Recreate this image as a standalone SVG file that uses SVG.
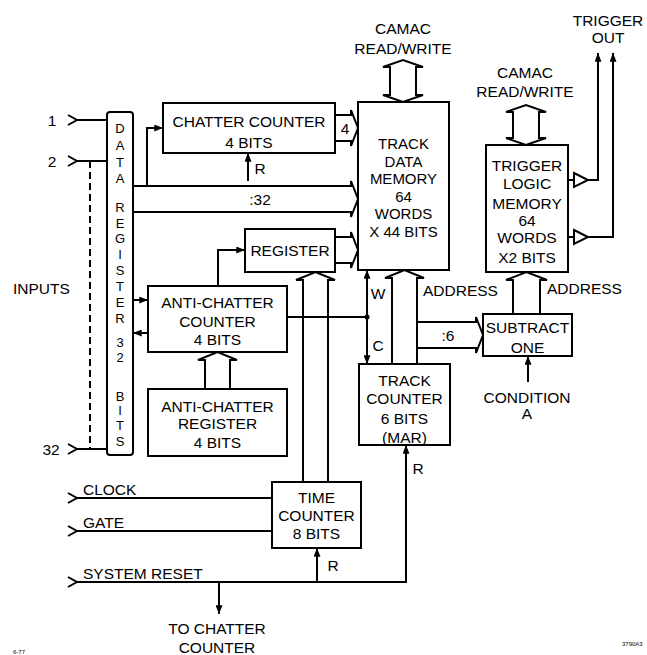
<svg xmlns="http://www.w3.org/2000/svg" width="647" height="655" viewBox="0 0 647 655">
<style>
text{font-family:"Liberation Sans",Arial,sans-serif;font-size:15.5px;fill:#000;text-anchor:middle}
.l{text-anchor:start}
.v{font-size:13px}
.m{font-size:15px}
.box{fill:#fff;stroke:#000;stroke-width:2}
.w{fill:none;stroke:#000;stroke-width:2}
.bus{fill:none;stroke:#000;stroke-width:2;stroke-linejoin:miter}
.dbl{fill:#fff;stroke:#000;stroke-width:2}
.tiny{font-size:6px}
</style>
<defs>
<marker id="ah" viewBox="0 0 10 8" refX="10" refY="4" markerWidth="9" markerHeight="7" markerUnits="userSpaceOnUse" orient="auto"><path d="M0,0 L10,4 L0,8 z" fill="#000"/></marker>
</defs>
<g id="connectors">
<path class="w" d="M68,115 L77,120 L68,125 M77,120 H107"/>
<path class="w" d="M68,156 L77,161 L68,166 M77,161 H107"/>
<path class="w" d="M68,444 L77,449 L68,454 M77,449 H107"/>
<line x1="90" y1="161" x2="90" y2="449" stroke="#000" stroke-width="2" stroke-dasharray="7 4"/>
<path class="bus" d="M133,186 H351 V181 L358,199 L351,217 V212 H133"/>
<path class="w" d="M147,186 V128 H163" marker-end="url(#ah)"/>
<path class="bus" d="M335,115 H351 V110 L358,128 L351,146 V141 H335"/>
<line class="w" x1="248" y1="181" x2="248" y2="153" marker-end="url(#ah)"/>
<path class="bus" d="M335,237 H351 V232 L358,250 L351,268 V263 H335"/>
<path class="w" d="M218,286 V250 H245" marker-end="url(#ah)"/>
<line class="w" x1="133" y1="300" x2="148" y2="300" marker-end="url(#ah)"/>
<line class="w" x1="148" y1="333" x2="133" y2="333" marker-end="url(#ah)"/>
<path class="bus" d="M205,389 V360 H198 L217.5,352 L237,360 H230 V389"/>
<path class="bus" d="M303,482 V280 H296 L315.5,272 L335,280 H328 V482"/>
<line class="w" x1="287" y1="317" x2="367" y2="317"/>
<circle cx="367" cy="317" r="2.5" fill="#000"/>
<line class="w" x1="367" y1="317" x2="367" y2="270" marker-end="url(#ah)"/>
<line class="w" x1="367" y1="317" x2="367" y2="364" marker-end="url(#ah)"/>
<path class="bus" d="M392,364 V278 H385 L404.5,270 L424,278 H417 V364"/>
<path class="bus" d="M417,322 H476 V317 L483,335 L476,353 V348 H417"/>
<path class="bus" d="M513,314 V280 H506 L526.5,272 L547,280 H540 V314"/>
<line class="w" x1="528" y1="382" x2="528" y2="356" marker-end="url(#ah)"/>
<path class="dbl" d="M390,67 H383 L403,60 L423,67 H416 V95 H423 L403,102 L383,95 H390 Z"/>
<path class="dbl" d="M513,112 H506 L526,105 L546,112 H539 V138 H546 L526,145 L506,138 H513 Z"/>
<line class="w" x1="568" y1="180" x2="574" y2="180"/>
<path class="dbl" d="M574,173 L588,180 L574,187 Z"/>
<path class="w" d="M588,180 H598 V53" marker-end="url(#ah)"/>
<line class="w" x1="568" y1="237" x2="574" y2="237"/>
<path class="dbl" d="M574,230 L588,237 L574,244 Z"/>
<path class="w" d="M588,237 H613 V53" marker-end="url(#ah)"/>
<path class="w" d="M68,493 L77,498 L68,503 M77,498 H272"/>
<path class="w" d="M68,526 L77,531 L68,536 M77,531 H272"/>
<path class="w" d="M68,577 L77,582 L68,587 M77,582 H406 V445" marker-end="url(#ah)"/>
<line class="w" x1="317" y1="582" x2="317" y2="548" marker-end="url(#ah)"/>
<line class="w" x1="219" y1="582" x2="219" y2="614" marker-end="url(#ah)"/>
</g>
<g id="labels">
<text x="52" y="126">1</text>
<text x="52" y="167">2</text>
<text x="51" y="455">32</text>
<text class="l" x="13" y="294">INPUTS</text>
<text x="260" y="205">:32</text>
<text x="345" y="134">4</text>
<text x="260" y="174">R</text>
<text x="378" y="299">W</text>
<text x="378" y="351">C</text>
<text class="l" x="423" y="296">ADDRESS</text>
<text class="l" x="547" y="294">ADDRESS</text>
<text x="448" y="341">:6</text>
<text x="527" y="403">CONDITION</text>
<text x="527" y="419">A</text>
<text x="403" y="34">CAMAC</text>
<text x="403" y="54">READ/WRITE</text>
<text x="525" y="78">CAMAC</text>
<text x="525" y="97">READ/WRITE</text>
<text x="608" y="26">TRIGGER</text>
<text x="608" y="43">OUT</text>
<text class="l" x="83" y="495">CLOCK</text>
<text class="l" x="83" y="528">GATE</text>
<text class="l" x="83" y="579">SYSTEM RESET</text>
<text x="418" y="474">R</text>
<text x="333" y="571">R</text>
<text x="217" y="634">TO CHATTER</text>
<text x="217" y="653">COUNTER</text>
<text class="l tiny" x="13" y="654">6-77</text>
<text class="l tiny" x="622" y="646">3790A3</text>
</g>
<g id="data-register">
<rect class="box" x="107" y="112" width="26" height="343" rx="3"/>
<text class="v" x="120" y="133">D</text><text class="v" x="120" y="150">A</text><text class="v" x="120" y="167">T</text><text class="v" x="120" y="183">A</text>
<text class="v" x="120" y="212">R</text><text class="v" x="120" y="228">E</text><text class="v" x="120" y="243">G</text><text class="v" x="120" y="259">I</text><text class="v" x="120" y="275">S</text><text class="v" x="120" y="291">T</text><text class="v" x="120" y="307">E</text><text class="v" x="120" y="323">R</text>
<text class="v" x="120" y="347">3</text><text class="v" x="120" y="362">2</text>
<text class="v" x="120" y="401">B</text><text class="v" x="120" y="415">I</text><text class="v" x="120" y="430">T</text><text class="v" x="120" y="446">S</text>
</g>
<g id="chatter-counter">
<rect class="box" x="163" y="103" width="172" height="50"/>
<text x="249" y="127">CHATTER COUNTER</text>
<text x="249" y="148">4 BITS</text>
</g>
<g id="register">
<rect class="box" x="245" y="229" width="90" height="43"/>
<text x="290" y="256">REGISTER</text>
</g>
<g id="anti-chatter-counter">
<rect class="box" x="148" y="286" width="139" height="66"/>
<text x="217.5" y="308">ANTI-CHATTER</text>
<text x="217.5" y="327">COUNTER</text>
<text x="217.5" y="345">4 BITS</text>
</g>
<g id="anti-chatter-register">
<rect class="box" x="148" y="389" width="139" height="67"/>
<text x="217.5" y="412">ANTI-CHATTER</text>
<text x="217.5" y="429">REGISTER</text>
<text x="217.5" y="448">4 BITS</text>
</g>
<g id="track-data-memory">
<rect class="box" x="358" y="102" width="91" height="168"/>
<text class="m" x="403.5" y="149">TRACK</text>
<text class="m" x="403.5" y="166.5">DATA</text>
<text class="m" x="403.5" y="184">MEMORY</text>
<text class="m" x="403.5" y="201.5">64</text>
<text class="m" x="403.5" y="219">WORDS</text>
<text class="m" x="403.5" y="236.5">X 44 BITS</text>
</g>
<g id="trigger-logic-memory">
<rect class="box" x="486" y="145" width="82" height="127"/>
<text x="527" y="171">TRIGGER</text>
<text x="527" y="189">LOGIC</text>
<text x="527" y="209">MEMORY</text>
<text x="527" y="226">64</text>
<text x="527" y="243">WORDS</text>
<text x="527" y="263">X2 BITS</text>
</g>
<g id="track-counter">
<rect class="box" x="359" y="364" width="91" height="81"/>
<text x="404.5" y="386">TRACK</text>
<text x="404.5" y="404">COUNTER</text>
<text x="404.5" y="424">6 BITS</text>
<text x="404.5" y="443">(MAR)</text>
</g>
<g id="subtract-one">
<rect class="box" x="483" y="314" width="89" height="42"/>
<text x="527.5" y="333">SUBTRACT</text>
<text x="527.5" y="353">ONE</text>
</g>
<g id="time-counter">
<rect class="box" x="272" y="482" width="89" height="66"/>
<text x="316.5" y="503">TIME</text>
<text x="316.5" y="521">COUNTER</text>
<text x="316.5" y="539">8 BITS</text>
</g>
</svg>
